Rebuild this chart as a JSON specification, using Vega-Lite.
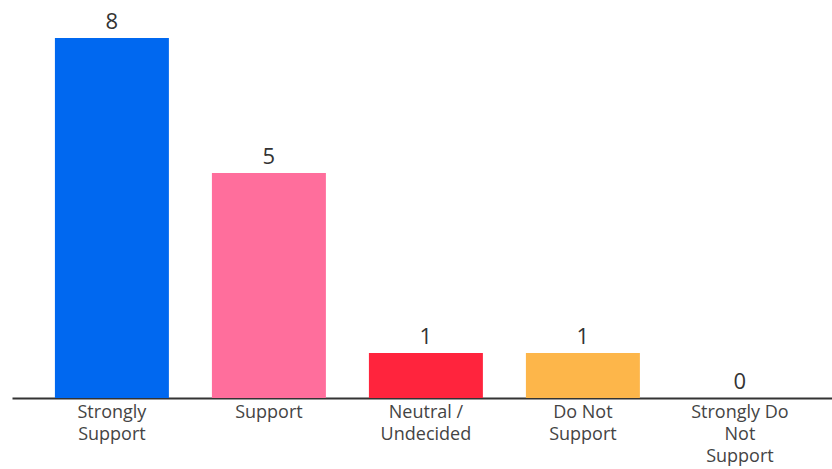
{
  "$schema": "https://vega.github.io/schema/vega-lite/v6.json",
  "width": 820,
  "height": 398,
  "autosize": {"type": "none"},
  "padding": {"left": 12, "top": 0, "right": 0, "bottom": 71},
  "background": "white",
  "config": {"view": {"stroke": null}, "font": "Open Sans"},
  "data": {
    "values": [
      {"label": "Strongly\nSupport", "value": 8},
      {"label": "Support", "value": 5},
      {"label": "Neutral /\nUndecided", "value": 1},
      {"label": "Do Not\nSupport", "value": 1},
      {"label": "Strongly Do\nNot\nSupport", "value": 0}
    ]
  },
  "encoding": {
    "x": {
      "field": "label",
      "type": "nominal",
      "sort": null,
      "scale": {"paddingInner": 0.274, "paddingOuter": 0.2485, "align": 0.55},
      "axis": {
        "title": null,
        "labelAngle": 0,
        "labelExpr": "split(datum.value, '\\n')",
        "labelFontSize": 18,
        "labelColor": "#444444",
        "labelLineHeight": 22,
        "labelPadding": 5,
        "labelBaseline": "top",
        "ticks": false,
        "domain": true,
        "domainColor": "#333333",
        "domainWidth": 2,
        "grid": false
      }
    },
    "y": {
      "field": "value",
      "type": "quantitative",
      "scale": {"domain": [0, 8.844], "nice": false},
      "axis": null
    }
  },
  "layer": [
    {
      "mark": {"type": "bar"},
      "encoding": {
        "color": {
          "field": "label",
          "type": "nominal",
          "scale": {
            "domain": ["Strongly\nSupport", "Support", "Neutral /\nUndecided", "Do Not\nSupport", "Strongly Do\nNot\nSupport"],
            "range": ["#0068F0", "#FF6E9C", "#FF243D", "#FDB64A", "#999999"]
          },
          "legend": null
        }
      }
    },
    {
      "mark": {"type": "text", "baseline": "bottom", "dy": -4, "fontSize": 22, "color": "#333333"},
      "encoding": {"text": {"field": "value", "type": "quantitative"}}
    }
  ]
}
